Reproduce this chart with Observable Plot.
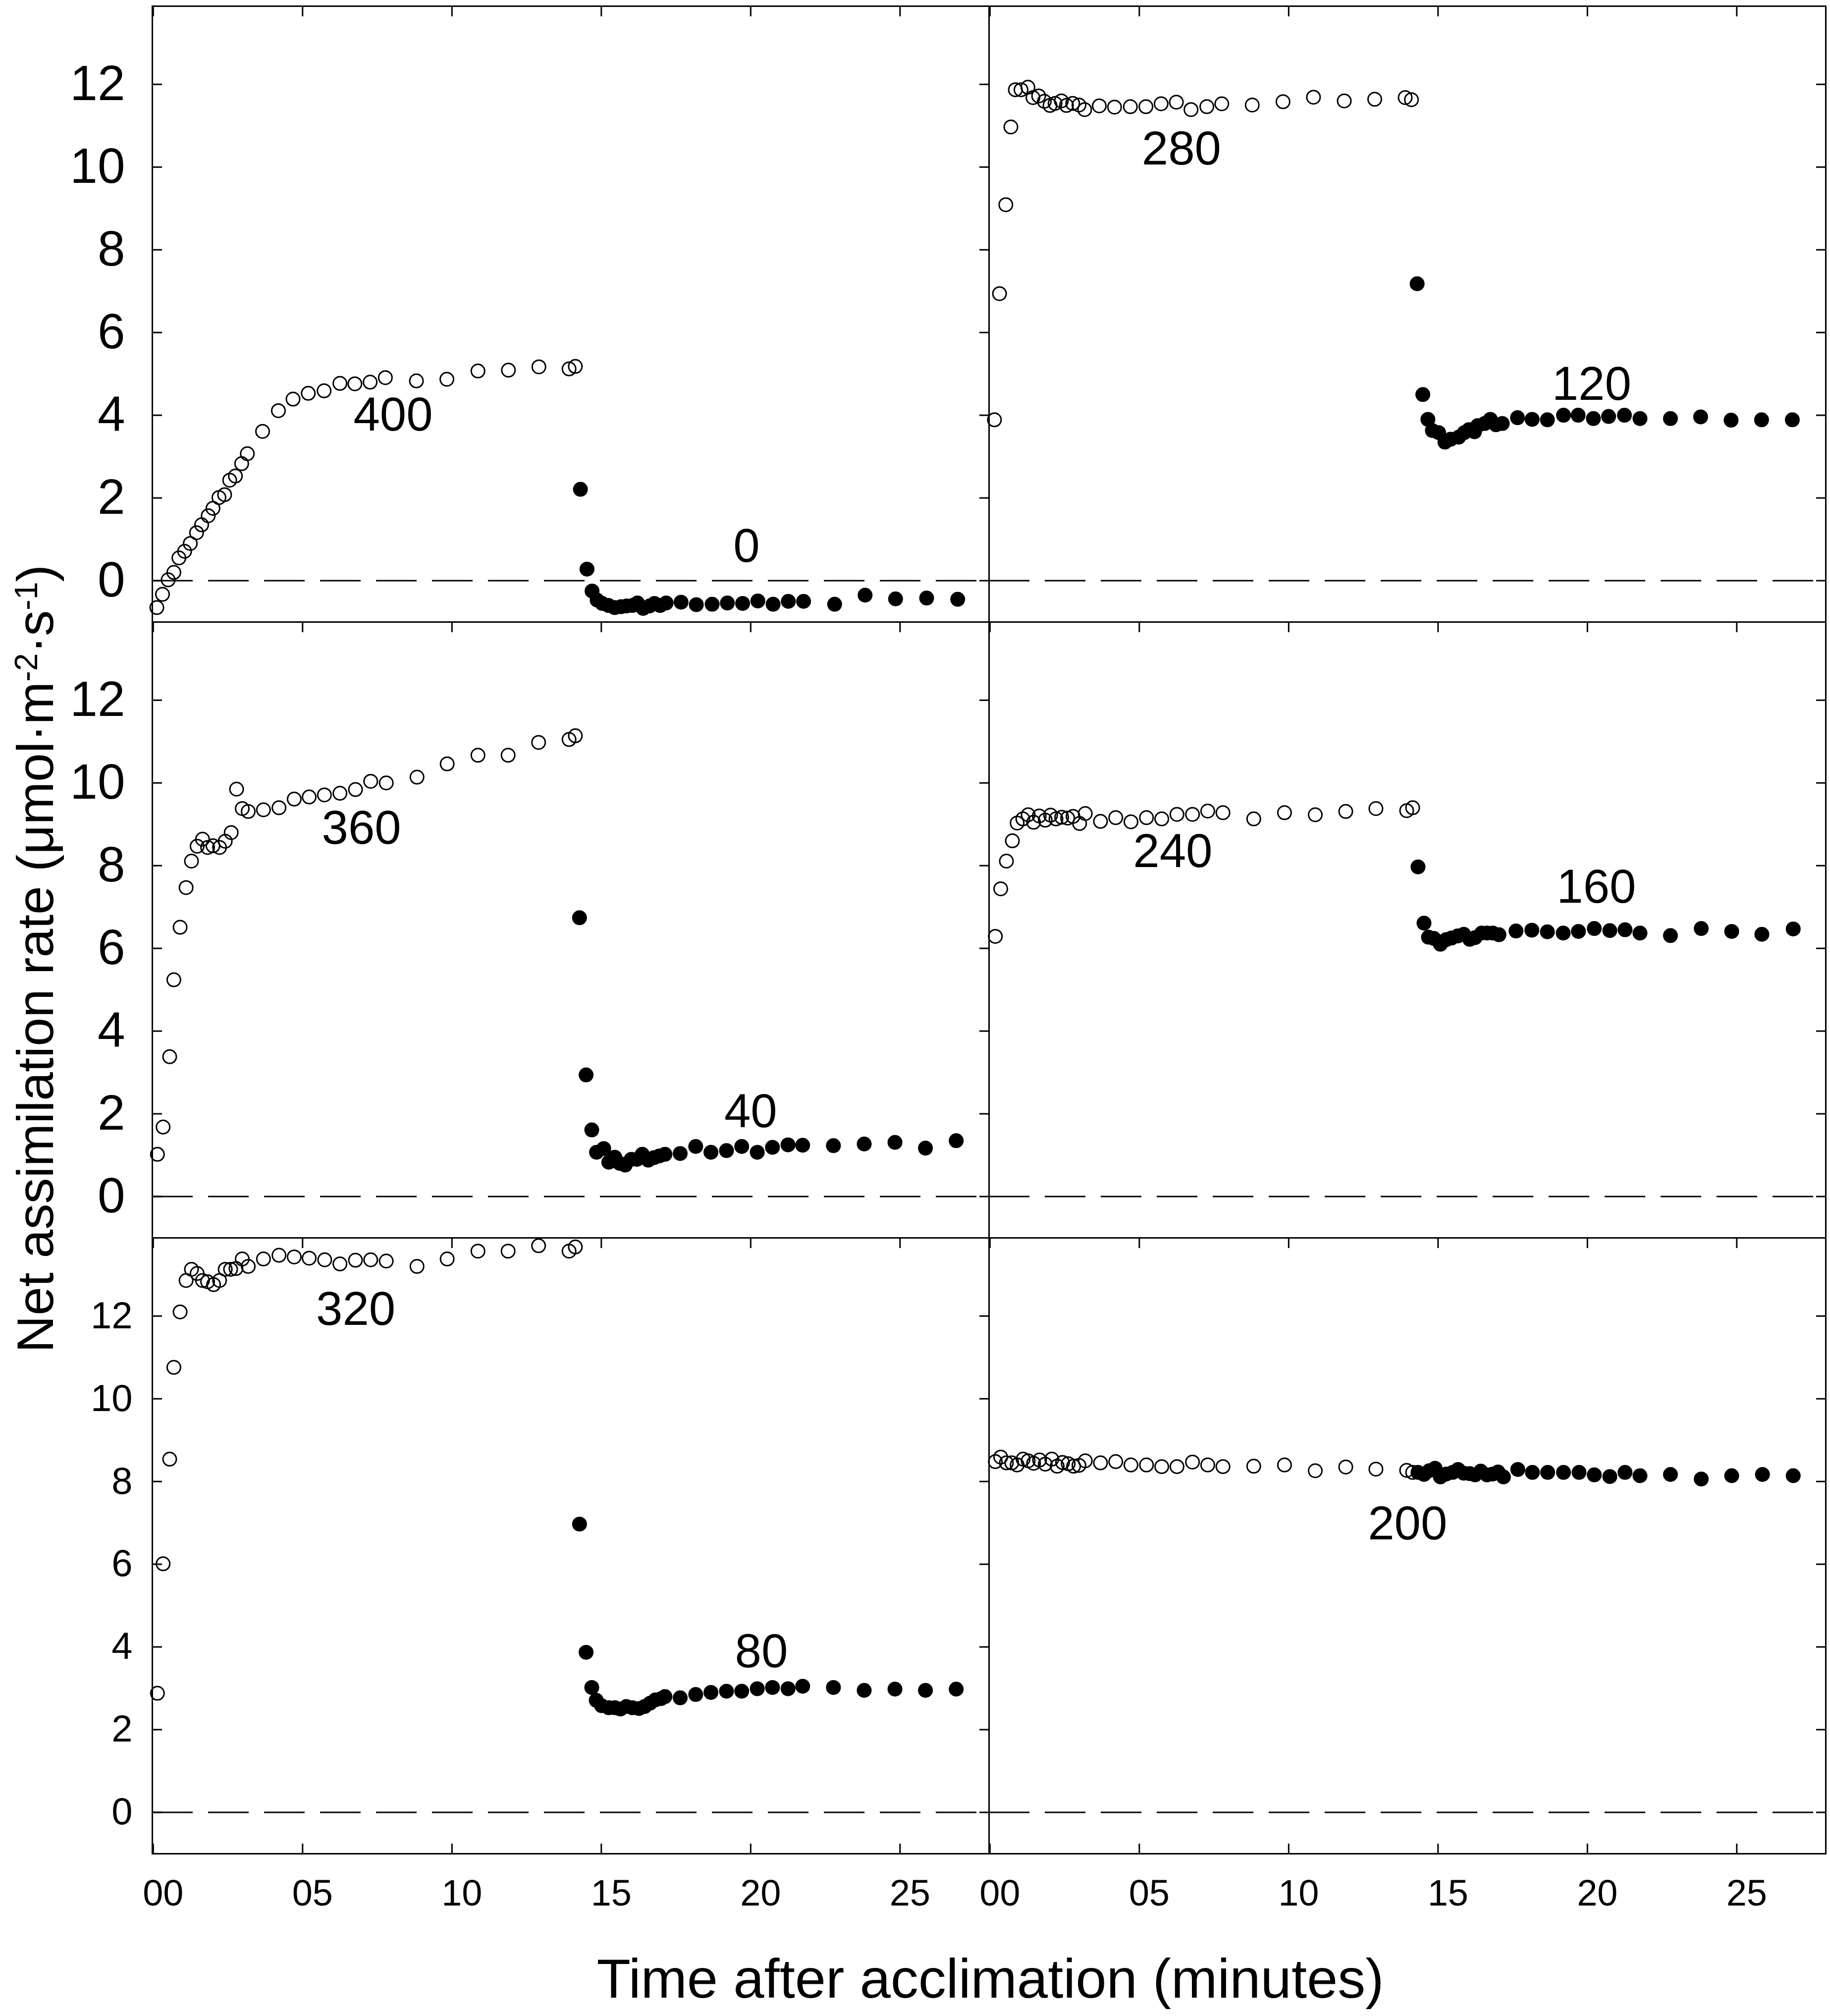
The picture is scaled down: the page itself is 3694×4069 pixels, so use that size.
<!DOCTYPE html>
<html><head><meta charset="utf-8">
<script src="https://cdn.jsdelivr.net/npm/d3@7"></script>
<script src="https://cdn.jsdelivr.net/npm/@observablehq/plot@0.6"></script>
<style>
body{margin:0;background:#fff;}
#wrap{position:relative;width:3694px;height:4069px;background:#fff;font-family:"Liberation Sans",Arial,sans-serif;color:#000;overflow:hidden;}
#ylab{position:absolute;left:71px;top:1935px;transform:translate(-50%,-50%) rotate(-90deg);white-space:nowrap;font-size:104px;line-height:1;}
#xlab{position:absolute;left:1999px;top:3938px;transform:translateX(-50%);white-space:nowrap;font-size:112px;line-height:1;}
.sup{font-size:0.62em;vertical-align:0.5em;line-height:0;}
</style></head>
<body><div id="wrap"><div id="chart"></div><div id="ylab">Net assimilation rate (μmol·m<span class="sup">-2</span>·s<span class="sup">-1</span>)</div><div id="xlab">Time after acclimation (minutes)</div></div>
<script>
// ---- tick values ----
const xTicks = [0, 5, 10, 15, 20, 25];
const yTicks = [0, 2, 4, 6, 8, 10, 12];

// ---- panel 1 (top-left): 400 (open) then 0 (filled) ----
const t400 = [0.12,0.31,0.50,0.69,0.86,1.05,1.24,1.45,1.62,1.84,2.00,2.20,2.39,2.56,2.75,2.96,3.15,3.66,4.19,4.68,5.19,5.72,6.25,6.75,7.26,7.77,8.81,9.83,10.87,11.89,12.91,13.92,14.13];
const a400 = [-0.65,-0.33,0.02,0.20,0.55,0.71,0.90,1.16,1.35,1.57,1.75,2.01,2.08,2.43,2.53,2.83,3.07,3.61,4.11,4.39,4.53,4.59,4.77,4.76,4.80,4.91,4.83,4.87,5.07,5.09,5.17,5.12,5.18];
const t0 = [14.30,14.52,14.69,14.86,15.03,15.24,15.45,15.66,15.85,16.04,16.21,16.40,16.62,16.78,16.97,17.17,17.67,18.18,18.71,19.22,19.73,20.24,20.75,21.26,21.77,22.81,23.83,24.85,25.89,26.93];
const a0 = [2.21,0.28,-0.25,-0.47,-0.55,-0.60,-0.65,-0.63,-0.61,-0.60,-0.54,-0.67,-0.61,-0.55,-0.60,-0.54,-0.52,-0.58,-0.57,-0.54,-0.55,-0.49,-0.57,-0.50,-0.50,-0.57,-0.35,-0.44,-0.42,-0.45];

// ---- panel 2 (top-right): 280 then 120 ----
const t280 = [0.15,0.32,0.53,0.70,0.85,1.04,1.27,1.44,1.63,1.82,2.01,2.18,2.39,2.56,2.77,2.98,3.17,3.66,4.17,4.70,5.22,5.73,6.24,6.73,7.26,7.76,8.78,9.81,10.83,11.86,12.88,13.90,14.11];
const a280 = [3.89,6.94,9.09,10.97,11.87,11.87,11.93,11.68,11.72,11.59,11.49,11.54,11.60,11.49,11.54,11.50,11.39,11.48,11.45,11.46,11.46,11.53,11.57,11.39,11.46,11.53,11.50,11.58,11.69,11.60,11.64,11.68,11.63];
const t120 = [14.30,14.49,14.66,14.81,15.02,15.23,15.42,15.69,15.88,16.03,16.22,16.33,16.56,16.75,16.94,17.15,17.66,18.15,18.66,19.20,19.69,20.20,20.71,21.24,21.76,22.78,23.79,24.81,25.83,26.86];
const a120 = [7.18,4.50,3.90,3.63,3.58,3.35,3.42,3.47,3.58,3.65,3.60,3.75,3.80,3.90,3.77,3.80,3.94,3.90,3.89,4.00,4.00,3.92,3.97,4.00,3.92,3.92,3.96,3.88,3.89,3.89];

// ---- panel 3 (middle-left): 360 then 40 ----
const t360 = [0.14,0.33,0.55,0.69,0.90,1.10,1.28,1.47,1.65,1.82,2.00,2.22,2.41,2.61,2.79,2.98,3.18,3.69,4.21,4.72,5.22,5.73,6.25,6.77,7.28,7.80,8.83,9.84,10.87,11.88,12.90,13.92,14.13];
const a360 = [1.02,1.68,3.38,5.24,6.51,7.47,8.11,8.47,8.64,8.44,8.48,8.44,8.59,8.80,9.85,9.38,9.31,9.35,9.40,9.61,9.66,9.71,9.75,9.84,10.04,10.00,10.14,10.46,10.67,10.67,10.98,11.05,11.14];
const t40 = [14.27,14.49,14.68,14.84,15.08,15.25,15.45,15.62,15.80,16.00,16.19,16.37,16.57,16.76,16.94,17.13,17.64,18.16,18.67,19.19,19.70,20.22,20.73,21.25,21.74,22.77,23.80,24.83,25.85,26.88];
const a40 = [6.74,2.94,1.61,1.07,1.16,0.83,0.95,0.80,0.76,0.90,0.90,1.02,0.88,0.94,0.98,1.02,1.04,1.21,1.07,1.11,1.21,1.07,1.19,1.25,1.24,1.23,1.27,1.31,1.17,1.35];

// ---- panel 4 (middle-right): 240 then 160 ----
const t240 = [0.18,0.36,0.55,0.75,0.91,1.10,1.28,1.46,1.65,1.85,2.03,2.21,2.40,2.60,2.78,3.00,3.19,3.70,4.21,4.72,5.24,5.75,6.26,6.78,7.29,7.80,8.83,9.86,10.89,11.91,12.92,13.95,14.15];
const a240 = [6.29,7.44,8.11,8.60,9.03,9.13,9.23,9.05,9.20,9.10,9.22,9.13,9.17,9.15,9.19,9.02,9.26,9.07,9.16,9.06,9.16,9.13,9.24,9.24,9.32,9.28,9.13,9.28,9.23,9.31,9.38,9.33,9.40];
const t160 = [14.33,14.53,14.68,14.86,15.08,15.27,15.45,15.66,15.86,16.06,16.24,16.46,16.64,16.83,17.04,17.61,18.14,18.66,19.19,19.70,20.23,20.75,21.26,21.76,22.78,23.81,24.83,25.84,26.89];
const a160 = [7.97,6.61,6.27,6.24,6.10,6.21,6.25,6.30,6.34,6.22,6.26,6.37,6.37,6.37,6.33,6.42,6.44,6.40,6.37,6.41,6.48,6.43,6.45,6.37,6.31,6.48,6.41,6.34,6.47];

// ---- panel 5 (bottom-left): 320 then 80 ----
const t320 = [0.14,0.33,0.55,0.69,0.90,1.10,1.28,1.47,1.65,1.82,2.02,2.22,2.41,2.59,2.77,2.98,3.18,3.69,4.21,4.72,5.22,5.74,6.25,6.77,7.28,7.80,8.83,9.84,10.87,11.88,12.90,13.92,14.13];
const a320 = [2.88,6.01,8.54,10.76,12.10,12.86,13.13,13.03,12.86,12.83,12.76,12.86,13.13,13.13,13.15,13.38,13.20,13.38,13.47,13.43,13.40,13.36,13.26,13.35,13.36,13.33,13.20,13.38,13.57,13.57,13.70,13.57,13.67];
const t80 = [14.27,14.49,14.68,14.83,15.01,15.25,15.45,15.64,15.84,16.04,16.26,16.45,16.63,16.81,17.00,17.13,17.64,18.16,18.67,19.19,19.70,20.22,20.73,21.25,21.74,22.77,23.80,24.83,25.85,26.88];
const a80 = [6.97,3.87,3.02,2.71,2.58,2.53,2.53,2.50,2.56,2.53,2.51,2.56,2.64,2.72,2.75,2.80,2.77,2.85,2.90,2.93,2.93,2.99,3.02,2.99,3.05,3.02,2.95,2.98,2.95,2.98];

// ---- panel 6 (bottom-right): 200 then 200 ----
const t200o = [0.18,0.36,0.55,0.73,0.91,1.11,1.28,1.46,1.66,1.85,2.07,2.25,2.43,2.62,2.80,2.98,3.19,3.70,4.21,4.72,5.24,5.75,6.26,6.78,7.29,7.80,8.83,9.86,10.89,11.91,12.92,13.95,14.15];
const a200o = [8.48,8.59,8.45,8.45,8.40,8.54,8.50,8.44,8.52,8.42,8.54,8.37,8.46,8.43,8.37,8.39,8.50,8.45,8.48,8.40,8.40,8.36,8.36,8.47,8.40,8.36,8.37,8.40,8.26,8.35,8.30,8.27,8.22];
const t200c = [14.33,14.53,14.70,14.90,15.08,15.27,15.49,15.67,15.86,16.06,16.24,16.43,16.64,16.83,17.01,17.19,17.67,18.16,18.67,19.20,19.72,20.23,20.75,21.26,21.76,22.78,23.81,24.83,25.86,26.89];
const a200c = [8.22,8.17,8.26,8.32,8.11,8.18,8.22,8.29,8.20,8.19,8.16,8.25,8.16,8.18,8.23,8.11,8.29,8.22,8.22,8.22,8.22,8.16,8.12,8.22,8.14,8.17,8.06,8.14,8.17,8.14];

// ---- in-panel CO2 labels ----
const labelText = ["400", "0", "280", "120", "360", "40", "240", "160", "320", "80", "200"];
const labelT    = [8.03, 19.86, 6.41, 20.14, 6.97, 20.0, 6.12, 20.3, 6.78, 20.36, 13.98];
const labelA    = [4.0, 0.82, 10.43, 4.74, 8.9, 2.05, 8.34, 7.47, 12.16, 3.88, 6.97];
const labelRow  = [0, 0, 0, 0, 1, 1, 1, 1, 2, 2, 2];
const labelCol  = ["L", "L", "R", "R", "L", "L", "R", "R", "L", "L", "R"];

// ---- assemble tables ----
const openSets = [[0,"L",t400,a400],[0,"R",t280,a280],[1,"L",t360,a360],[1,"R",t240,a240],[2,"L",t320,a320],[2,"R",t200o,a200o]];
const closedSets = [[0,"L",t0,a0],[0,"R",t120,a120],[1,"L",t40,a40],[1,"R",t160,a160],[2,"L",t80,a80],[2,"R",t200c,a200c]];
const toRows = sets => sets.flatMap(([row, col, T, A]) => T.map((t, i) => ({row, col, t, a: A[i]})));
const openRows = toRows(openSets);
const closedRows = toRows(closedSets);
const labelRows = labelText.map((text, i) => ({text, x: labelT[i], y: labelA[i], row: labelRow[i], col: labelCol[i]}));
const yLabTop = [0, 1].flatMap(row => yTicks.map(v => ({row, col: "L", v, s: String(v)})));
const yLabBottom = yTicks.map(v => ({row: 2, col: "L", v, s: String(v)}));

const H = 3880;
const chart = Plot.plot({
  width: 3694,
  height: H,
  marginLeft: 307,
  marginRight: 9,
  marginTop: 12,
  marginBottom: H - 3741,
  style: {fontFamily: '"Liberation Sans", Arial, sans-serif', background: "white", color: "black", overflow: "visible"},
  x: {domain: [-0.03, 27.98], axis: null, label: null},
  y: {domain: [-1, 13.89], axis: null, label: null},
  fx: {domain: ["L", "R"], padding: 0, axis: null, label: null},
  fy: {domain: [0, 1, 2], padding: 0, axis: null, label: null},
  marks: [
    Plot.ruleY([0], {strokeWidth: 3, strokeDasharray: "82,31"}),
    Plot.dot(openRows, {x: "t", y: "a", fx: "col", fy: "row", r: 13.5, fill: "none", stroke: "black", strokeWidth: 3}),
    Plot.dot(closedRows, {x: "t", y: "a", fx: "col", fy: "row", r: 15, fill: "black", stroke: "none"}),
    Plot.text(labelRows, {x: "x", y: "y", fx: "col", fy: "row", text: "text", fontSize: 96}),
    Plot.axisY(yTicks, {anchor: "left", tickSize: -20, text: null, label: null, facetAnchor: "left", strokeWidth: 3}),
    Plot.axisY(yTicks, {anchor: "right", tickSize: -20, text: null, label: null, facetAnchor: null, strokeWidth: 3}),
    Plot.axisX(xTicks, {anchor: "top", tickSize: -20, text: null, label: null, facetAnchor: null, strokeWidth: 3}),
    Plot.axisX(xTicks, {anchor: "bottom", tickSize: -20, text: null, label: null, facetAnchor: "bottom", strokeWidth: 3}),
    Plot.axisX(xTicks, {anchor: "bottom", tickSize: 0, tickPadding: 52, tickFormat: d3.format("02d"), fontSize: 74, dx: 20, label: null, facetAnchor: "bottom"}),
    Plot.text(yLabTop, {fx: "col", fy: "row", y: "v", text: "s", frameAnchor: "left", textAnchor: "end", dx: -55, fontSize: 100}),
    Plot.text(yLabBottom, {fx: "col", fy: "row", y: "v", text: "s", frameAnchor: "left", textAnchor: "end", dx: -40, fontSize: 76}),
    Plot.frame({stroke: "black", strokeWidth: 3})
  ]
});
document.getElementById("chart").appendChild(chart);
</script></body></html>
